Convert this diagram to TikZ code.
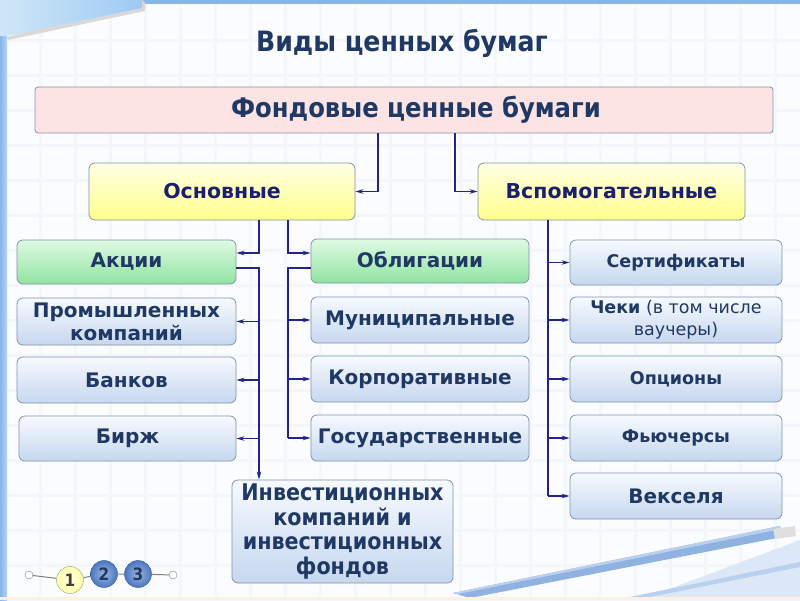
\documentclass[tikz,border=0pt]{standalone}
\usepackage{fontspec}
\setmainfont{DejaVu Sans}
\newfontfamily\condfont{DejaVu Sans Condensed}
\usetikzlibrary{arrows.meta,calc}
\definecolor{navy}{HTML}{1F3864}
\definecolor{indigo}{HTML}{1C1F6E}
\definecolor{lnk}{HTML}{23238A}
\definecolor{bord}{HTML}{8393AD}
\definecolor{bgc}{HTML}{FAFCFE}
\definecolor{gridc}{HTML}{F3F7FC}
\definecolor{bluetop}{HTML}{F7FAFE}
\definecolor{bluebot}{HTML}{C6D7EF}
\definecolor{greentop}{HTML}{E0FAE4}
\definecolor{greenbot}{HTML}{8FE3A0}
\definecolor{yeltop}{HTML}{FFFFE4}
\definecolor{yelbot}{HTML}{FFFF8C}
\definecolor{pinkc}{HTML}{FCE4E4}
\definecolor{barc}{HTML}{86B5EA}
\definecolor{foldl}{HTML}{CFE6F8}
\definecolor{foldr}{HTML}{9ECBF3}
\definecolor{penc}{HTML}{8FB2E0}
\definecolor{penl}{HTML}{B9D0EE}
\definecolor{navb}{HTML}{4B78C2}
\tikzset{
  box/.style={draw=bord, line width=0.8pt, rounded corners=6pt, align=center, text=navy, font=\bfseries\fontsize{20}{23}\selectfont, inner sep=2pt},
  bluebox/.style={box, top color=bluetop, bottom color=bluebot},
  smallbox/.style={bluebox, font=\bfseries\fontsize{17.5}{22}\selectfont},
  greenbox/.style={box, top color=greentop, bottom color=greenbot},
  yellowbox/.style={box, top color=yeltop, bottom color=yelbot, text=indigo, font=\bfseries\fontsize{20.5}{24}\selectfont},
  pinkbox/.style={box, fill=pinkc, rounded corners=3pt, font=\condfont\bfseries\fontsize{27}{30}\selectfont},
  conn/.style={draw=lnk, line width=1.1pt},
  arr/.style={conn, -{Stealth[length=8pt,width=4.5pt]}},
  navc/.style={circle, minimum size=27pt, inner sep=0pt, text=navy, font=\condfont\bfseries\fontsize{17}{17}\selectfont},
  navend/.style={circle, draw=gray, fill=white, minimum size=8pt, inner sep=0pt},
}
\begin{document}
\begin{tikzpicture}[x=1pt,y=-1pt]
\useasboundingbox (0,0) rectangle (800,600);
% background
\fill[bgc] (0,0) rectangle (800,600);
\foreach \i in {40,75,...,800} \draw[gridc, line width=3pt] (\i,0) -- (\i,600);
\foreach \j in {40,75,...,600} \draw[gridc, line width=3pt] (0,\j) -- (800,\j);
\shade[left color=barc, right color=barc!60!white] (0,0) rectangle (7,600);
\fill[barc] (0,0) rectangle (800,4);
\fill[gray!30!white] (142,0) -- (145,3) -- (145,11) -- (8,40) -- (7,37) -- cycle;
\shade[left color=foldl, right color=foldr] (0,0) -- (142,0) -- (142,8) -- (7,36) -- (0,36) -- cycle;
% pen
\fill[penl!50!white] (640,600) -- (800,540) -- (800,600) -- cycle;
\fill[penl] (630,597) -- (800,562) -- (800,567) -- (635,600) -- cycle;
\fill[penc] (453,593) -- (780,526) -- (782,537) -- (470,598) -- cycle;
\fill[penl] (453,593) -- (780,526) -- (781,529) -- (458,594) -- cycle;
\fill[gray!25!white] (773,529) -- (795,526) -- (796,536) -- (775,539) -- cycle;
\fill[orange!12!white] (0,597) rectangle (800,600);
% title
\node[text=navy, font=\condfont\bfseries\fontsize{28}{32}\selectfont] (title) at (402,43) {Виды ценных бумаг};
% boxes
\node[pinkbox, minimum width=738pt, minimum height=46pt] (top) at (404,110) {\hspace*{24pt}Фондовые ценные бумаги};
\node[yellowbox, minimum width=266pt, minimum height=57pt] (osn) at (222,191.5) {Основные};
\node[yellowbox, minimum width=267pt, minimum height=57pt] (vsp) at (611.5,191.5) {Вспомогательные};
\node[greenbox, minimum width=219pt, minimum height=44pt] (akc) at (126.5,262) {Акции};
\node[greenbox, minimum width=218pt, minimum height=44pt] (obl) at (420,261) {Облигации};
\node[bluebox, minimum width=219pt, minimum height=47pt] (prom) at (126.5,321.5) {Промышленных\\компаний};
\node[bluebox, minimum width=219pt, minimum height=46pt] (bank) at (126.5,380) {Банков};
\node[bluebox, minimum width=217pt, minimum height=45pt] (birzh) at (127.5,438.5) {Бирж};
\node[bluebox, minimum width=218pt, minimum height=46pt] (mun) at (420,320) {Муниципальные};
\node[bluebox, minimum width=218pt, minimum height=46pt] (korp) at (420,379) {Корпоративные};
\node[bluebox, minimum width=218pt, minimum height=46pt] (gos) at (420,438) {Государственные};
\node[smallbox, minimum width=212pt, minimum height=45pt] (sert) at (676,262.5) {Сертификаты};
\node[smallbox, minimum width=212pt, minimum height=46pt, font=\fontsize{17.5}{22}\selectfont] (cheki) at (676,320) {\textbf{Чеки} (в том числе\\ваучеры)};
\node[smallbox, minimum width=212pt, minimum height=46pt] (opc) at (676,379) {Опционы};
\node[smallbox, minimum width=212pt, minimum height=46pt] (fut) at (676,438) {Фьючерсы};
\node[bluebox, minimum width=212pt, minimum height=46pt] (veks) at (676,496) {Векселя};
\node[bluebox, minimum width=221pt, minimum height=103pt, font=\condfont\bfseries\fontsize{23}{24.5}\selectfont] (inv) at (342.5,531.5) {Инвестиционных\\компаний и\\инвестиционных\\фондов};
% connector columns
\coordinate (xa) at (378,0);
\coordinate (xb) at (455,0);
\coordinate (xL) at (259,0);
\coordinate (xM) at (288,0);
\coordinate (xR) at (548,0);
\draw[arr] (top.south -| xa) |- (osn.east);
\draw[arr] (top.south -| xb) |- (vsp.west);
\draw[arr] (osn.south -| xL) |- ($(akc.east)+(0,-9)$);
\draw[arr] (osn.south -| xM) |- ($(obl.west)+(0,-8)$);
\draw[arr] ($(akc.east)+(0,6)$) -| (inv.north -| xL);
\draw[arr] (prom.east -| xL) -- (prom.east);
\draw[arr] (bank.east -| xL) -- (bank.east);
\draw[arr] (birzh.east -| xL) -- (birzh.east);
\draw[conn] ($(obl.west)+(0,7)$) -| (gos.west -| xM);
\draw[arr] (mun.west -| xM) -- (mun.west);
\draw[arr] (korp.west -| xM) -- (korp.west);
\draw[arr] (gos.west -| xM) -- (gos.west);
\draw[conn] (vsp.south -| xR) -- (veks.west -| xR);
\draw[arr] (sert.west -| xR) -- (sert.west);
\draw[arr] (cheki.west -| xR) -- (cheki.west);
\draw[arr] (opc.west -| xR) -- (opc.west);
\draw[arr] (fut.west -| xR) -- (fut.west);
\draw[arr] (veks.west -| xR) -- (veks.west);
% navigation
\node[navend] (c0) at (29,575) {};
\node[navend] (c4) at (173,575) {};
\node[navc, draw=gray!80, inner color=yellow!8!white, outer color=yellow!35!white, text=black!70!olive] (c1) at (70,580) {1};
\node[navc, draw=navb!70!black, inner color=navb!55!white, outer color=navb] (c2) at (104,574) {2};
\node[navc, draw=navb!70!black, inner color=navb!55!white, outer color=navb] (c3) at (138,574) {3};
\draw[gray, line width=1pt] (c0) -- (c1) (c1) -- (c2) (c2) -- (c3) (c3) -- (c4);
\end{tikzpicture}
\end{document}
